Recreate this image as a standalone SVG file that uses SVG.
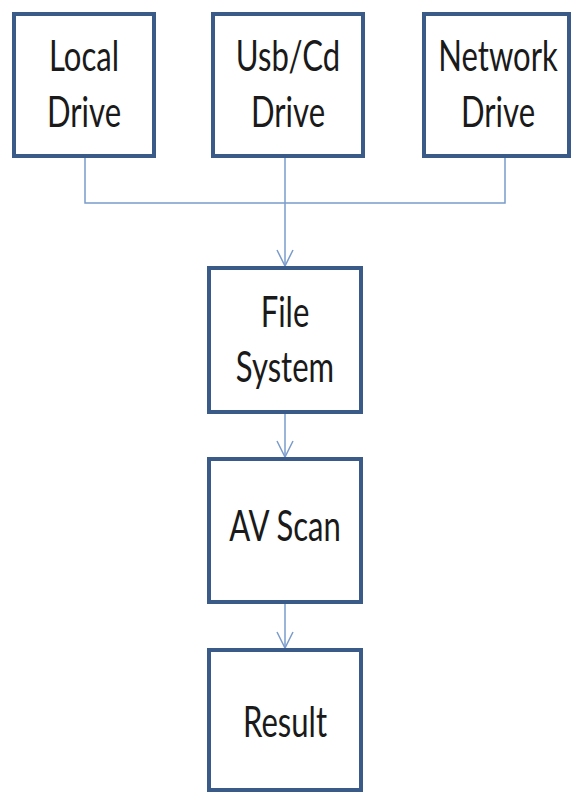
<svg xmlns="http://www.w3.org/2000/svg" width="572" height="793" viewBox="0 0 572 793">
  <style>
    .box { fill: #ffffff; stroke: #3a5a88; stroke-width: 4; }
    .lbl { font-family: Lato, "Open Sans", "Liberation Sans", sans-serif; font-size: 42px; fill: #1a1a1a; text-anchor: middle; }
    .wire { fill: none; stroke: #7a9ccc; stroke-width: 1.5; }
  </style>
  <defs>
    <!-- open V arrowhead for the flow lines -->
    <marker id="vhead" viewBox="0 0 18 18" refX="17" refY="9" markerWidth="18" markerHeight="18" markerUnits="userSpaceOnUse" orient="auto">
      <path d="M1,1 L17,9 L1,17" fill="none" stroke="#7a9ccc" stroke-width="1.5"/>
    </marker>
  </defs>
  <rect width="572" height="793" fill="#ffffff"/>

  <g id="connectors">
    <path class="wire" d="M85,157 V203 H505 V157"/>
    <path class="wire" d="M285,157 V266" marker-end="url(#vhead)"/>
    <path class="wire" d="M285,413 V457" marker-end="url(#vhead)"/>
    <path class="wire" d="M285,603 V648" marker-end="url(#vhead)"/>
  </g>

  <g id="local-drive">
    <rect class="box" x="14" y="14" width="140" height="142"/>
    <g transform="translate(84,0) scale(0.74,1)">
      <text class="lbl" x="0" y="71">Local</text>
      <text class="lbl" x="0" y="127">Drive</text>
    </g>
  </g>

  <g id="usb-cd-drive">
    <rect class="box" x="213" y="14" width="150" height="142"/>
    <g transform="translate(288,0) scale(0.74,1)">
      <text class="lbl" x="0" y="71">Usb/Cd</text>
      <text class="lbl" x="0" y="127">Drive</text>
    </g>
  </g>

  <g id="network-drive">
    <rect class="box" x="424" y="14" width="145" height="142"/>
    <g transform="translate(498,0) scale(0.74,1)">
      <text class="lbl" x="0" y="71">Network</text>
      <text class="lbl" x="0" y="127">Drive</text>
    </g>
  </g>

  <g id="file-system">
    <rect class="box" x="209" y="268" width="152" height="144"/>
    <g transform="translate(285,0) scale(0.74,1)">
      <text class="lbl" x="0" y="327">File</text>
      <text class="lbl" x="0" y="382">System</text>
    </g>
  </g>

  <g id="av-scan">
    <rect class="box" x="209" y="459" width="152" height="143"/>
    <g transform="translate(285,0) scale(0.74,1)">
      <text class="lbl" x="0" y="541">AV Scan</text>
    </g>
  </g>

  <g id="result">
    <rect class="box" x="209" y="650" width="152" height="140"/>
    <g transform="translate(285,0) scale(0.74,1)">
      <text class="lbl" x="0" y="737">Result</text>
    </g>
  </g>
</svg>
